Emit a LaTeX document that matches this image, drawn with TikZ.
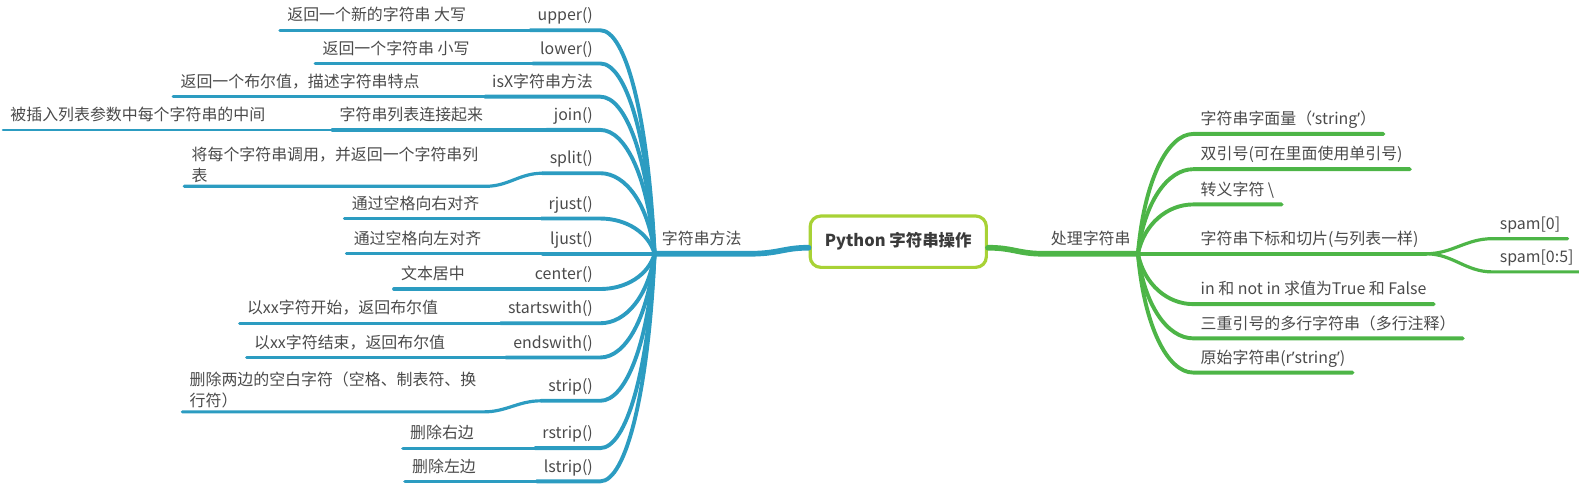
\documentclass[tikz,border=0pt]{standalone}
\usepackage{fontspec}
\setmainfont{Noto Sans CJK SC}
\newfontfamily\latinq{Noto Sans}
\usetikzlibrary{positioning,calc}
\definecolor{ink}{HTML}{4A4A4A}
\definecolor{rootink}{HTML}{3A3A3A}
\definecolor{lime}{HTML}{A8D236}
\definecolor{teal}{HTML}{2C9CC1}
\definecolor{leaf}{HTML}{4DB547}
\newcommand{\lquo}{{\latinq ‘}}
\newcommand{\rquo}{{\latinq ’}}

\begin{document}
\begin{tikzpicture}[x=0.02cm, y=-0.02cm,
    t/.style={font=\fontsize{9}{12}\selectfont, text=ink, inner xsep=0.14cm,
              inner ysep=0.09cm, text depth=0.25em},
    tl/.style={t, anchor=south west},
    tr/.style={t, anchor=south east},
    tt/.style={font=\fontsize{9}{12}\selectfont, text=ink, inner xsep=0.14cm,
               inner ysep=0.06cm, align=left, anchor=south west},
    root/.style={draw=lime, line width=1.8pt, rounded corners=6pt, fill=white,
                 minimum width=3.5cm, minimum height=1.02cm,
                 font=\fontsize{9.3}{12}\selectfont\bfseries, text=rootink},
    main/.style={line width=3.2pt, line cap=round},
    sub/.style={line width=2.2pt, line cap=round},
    thin/.style={line width=1.8pt, line cap=round}]
  \useasboundingbox (0,0) rectangle (1568,481);

  \node[tl] (strm) at (650,252) {字符串方法};
  \node[tr] (proc) at (1130,252) {处理字符串};

  % string methods
  \node[tr] (upper) at (596,30) {upper()};
  \node[tr] (lower) at (596,63) {lower()};
  \node[tr] (isx) at (596,96) {isX字符串方法};
  \node[tr] (join) at (596,129) {join()};
  \node[tr] (split) at (596,172) {split()};
  \node[tr] (rjust) at (596,217) {rjust()};
  \node[tr] (ljust) at (596,252) {ljust()};
  \node[tr] (center) at (596,287) {center()};
  \node[tr] (sw) at (596,321) {startswith()};
  \node[tr] (ew) at (596,355) {endswith()};
  \node[tr] (strip) at (596,398) {strip()};
  \node[tr] (rstrip) at (596,445) {rstrip()};
  \node[tr] (lstrip) at (596,478) {lstrip()};

  \node[tl] (upper-d) at (278,30) {返回一个新的字符串 大写};
  \node[tl] (lower-d) at (313,63) {返回一个字符串 小写};
  \node[tl] (isx-d) at (172,96) {返回一个布尔值，描述字符串特点};
  \node[tl] (join-d) at (330,129) {字符串列表连接起来};
  \node[tl] (join-dd) at (3,129) {被插入列表参数中每个字符串的中间};
  \node[tt] (split-d) at (183,185) {将每个字符串调用，并返回一个字符串列\\表};
  \node[tl] (rjust-d) at (342,217) {通过空格向右对齐};
  \node[tl] (ljust-d) at (344,252) {通过空格向左对齐};
  \node[tl] (center-d) at (391,287) {文本居中};
  \node[tl] (sw-d) at (238,321) {以xx字符开始，返回布尔值};
  \node[tl] (ew-d) at (245,355) {以xx字符结束，返回布尔值};
  \node[tt] (strip-d) at (181,409) {删除两边的空白字符（空格、制表符、换\\行符）};
  \node[tl] (rstrip-d) at (400,445) {删除右边};
  \node[tl] (lstrip-d) at (402,478) {删除左边};

  % handling strings
  \node[tl] (lit) at (1185,133) {字符串字面量（\lquo string\rquo）};
  \node[tl] (dq) at (1185,168) {双引号(可在里面使用单引号)};
  \node[tl] (esc) at (1185,203) {转义字符 \textbackslash};
  \node[tl] (slice) at (1185,252) {字符串下标和切片(与列表一样)};
  \node[tl] (inop) at (1185,302) {in 和 not in 求值为True 和 False};
  \node[tl] (tri) at (1185,336) {三重引号的多行字符串（多行注释）};
  \node[tl] (raw) at (1185,370) {原始字符串(r\rquo string\rquo)};
  \node[tl] (s0) at (1482,237) {spam[0]};
  \node[tl] (s05) at (1482,270) {spam[0:5]};

  \node[root] (root) at (892,240) {Python 字符串操作};

  \draw[teal, main] ($(root.west)+(0,6)$) .. controls +(-25,0) and +(30,0) .. (strm.south east) -- (strm.south west);
  \draw[leaf, main] ($(root.east)+(0,6)$) .. controls +(25,0) and +(-25,0) .. (proc.south west) -- (proc.south east);

  \foreach \m/\y in {upper/30, lower/63, isx/96, join/129, split/172, rjust/217, ljust/252,
                     center/287, sw/321, ew/355, strip/398, rstrip/445, lstrip/478}
    \draw[teal, sub] (strm.south west) .. controls +(-6,{(\y-252)*0.6}) and +(26,0) .. (\m.south east) -- (\m.south west);
  \foreach \m in {upper, lower, isx, join, split, rjust, ljust, center, sw, ew, strip, rstrip, lstrip}
    \draw[teal, thin] (\m.south west) to[out=180,in=0] (\m-d.south east) -- (\m-d.south west);
  \draw[teal, line width=1.5pt, line cap=round] (join-d.south west) -- (join-dd.south east) -- (join-dd.south west);

  \foreach \c/\y in {lit/133, dq/168, esc/203, slice/252, inop/302, tri/336, raw/370}
    \draw[leaf, sub] (proc.south east) .. controls +(6,{(\y-252)*0.6}) and +(-26,0) .. (\c.south west) -- (\c.south east);
  \draw[leaf, thin] (slice.south east) to[out=0,in=180] (s0.south west) -- (s0.south east);
  \draw[leaf, thin] (slice.south east) to[out=0,in=180] (s05.south west) -- (s05.south east);
\end{tikzpicture}
\end{document}
